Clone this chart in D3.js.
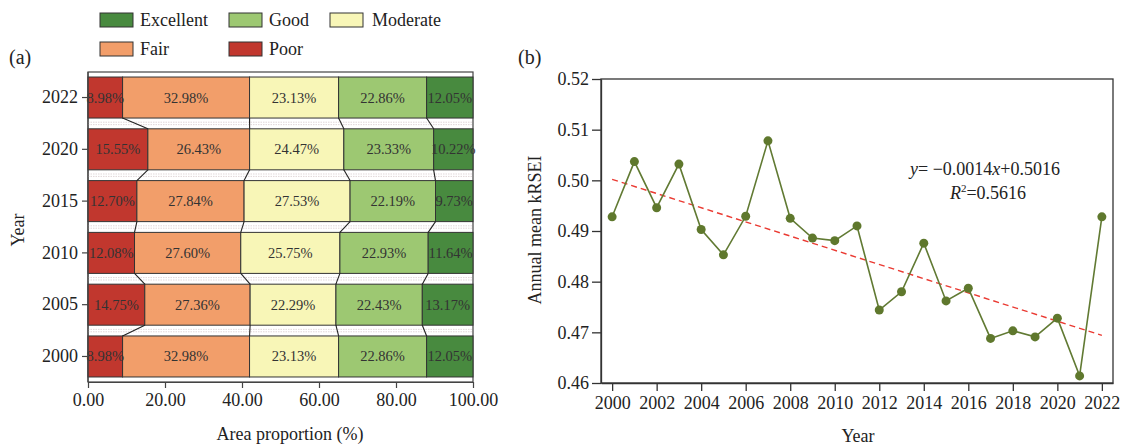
<!DOCTYPE html>
<html><head><meta charset="utf-8">
<script src="https://cdn.jsdelivr.net/npm/d3@7"></script>
<style>
html,body{margin:0;padding:0;background:#fff;}
svg{display:block;}
text{font-family:"Liberation Serif","Times New Roman",serif;fill:#222;}
</style></head><body>
<svg id="c" width="1133" height="446"></svg>
<script>
// ---------- data ----------
const years = ["2022", "2020", "2015", "2010", "2005", "2000"];
const classes = ["Poor", "Fair", "Moderate", "Good", "Excellent"];
const classColors = ["#c1372e", "#f29e6a", "#f8f6b7", "#9dc872", "#488a3f"];
const poor      = [8.98, 15.55, 12.70, 12.08, 14.75, 8.98];
const fair      = [32.98, 26.43, 27.84, 27.60, 27.36, 32.98];
const moderate  = [23.13, 24.47, 27.53, 25.75, 22.29, 23.13];
const good      = [22.86, 23.33, 22.19, 22.93, 22.43, 22.86];
const excellent = [12.05, 10.22, 9.73, 11.64, 13.17, 12.05];
const xTicksA = [0, 20, 40, 60, 80, 100];

const lineYears = [2000,2001,2002,2003,2004,2005,2006,2007,2008,2009,2010,2011,2012,2013,2014,2015,2016,2017,2018,2019,2020,2021,2022];
const krsei = [0.4928,0.5037,0.4946,0.5032,0.4903,0.4853,0.4929,0.5078,0.4925,0.4886,0.4881,0.4910,0.4744,0.4780,0.4876,0.4762,0.4787,0.4688,0.4703,0.4691,0.4728,0.4614,0.4928];
const trendSlope = -0.0014, trendIntercept = 0.5016;
const xTicksB = [2000,2002,2004,2006,2008,2010,2012,2014,2016,2018,2020,2022];
const yTicksB = [0.46,0.47,0.48,0.49,0.50,0.51,0.52];

const svg = d3.select("#c");

// ---------- panel (a) ----------
const series = [poor, fair, moderate, good, excellent];
const rows = years.map((y, i) => {
  let c = 0;
  const segs = series.map((s, k) => { const s0 = c; c += s[i]; return {k, v: s[i], x0: s0, x1: c}; });
  return {year: y, segs};
});

const xA = d3.scaleLinear().domain([0, 100]).range([88, 473]);
const yA = d3.scaleBand().domain(years).range([72, 382]).paddingInner(0.208).paddingOuter(0.097);
const bw = yA.bandwidth();

const gA = svg.append("g");
gA.append("rect").attr("x", xA(0)).attr("y", 72).attr("width", xA(100) - xA(0)).attr("height", 310)
  .attr("fill", "none").attr("stroke", "#444").attr("stroke-width", 1.2);

// gap dotted lines
for (let i = 0; i < years.length - 1; i++) {
  const yb = yA(years[i]) + bw, yt = yA(years[i + 1]);
  const ym = (yb + yt) / 2;
  [ym - 1.2, ym + 1.2].forEach(yy =>
    gA.append("line").attr("x1", xA(0)).attr("x2", xA(100)).attr("y1", yy).attr("y2", yy)
      .attr("stroke", "#d4c6c9").attr("stroke-width", 0.7).attr("stroke-dasharray", "1.5,1"));
}

// bars
rows.forEach(r => {
  const g = gA.append("g");
  g.selectAll("rect").data(r.segs).join("rect")
    .attr("x", d => xA(d.x0)).attr("y", yA(r.year))
    .attr("width", d => xA(d.x1) - xA(d.x0)).attr("height", bw)
    .attr("fill", d => classColors[d.k]).attr("stroke", "#333").attr("stroke-width", 1);
  g.selectAll("text").data(r.segs).join("text")
    .attr("x", d => (xA(d.x0) + xA(d.x1)) / 2).attr("y", yA(r.year) + bw / 2 + 5)
    .attr("text-anchor", "middle").attr("font-size", 14.5).style("fill", "#333")
    .text(d => d.v.toFixed(2) + "%");
});

// connectors
for (let i = 0; i < rows.length - 1; i++) {
  const up = rows[i], lo = rows[i + 1];
  for (let k = 0; k < 4; k++) {
    gA.append("line")
      .attr("x1", xA(up.segs[k].x1)).attr("y1", yA(up.year) + bw)
      .attr("x2", xA(lo.segs[k].x1)).attr("y2", yA(lo.year))
      .attr("stroke", "#222").attr("stroke-width", 1.1);
  }
}

// axes
const axA = gA.append("g").attr("transform", "translate(0,382)")
  .call(d3.axisBottom(xA).tickValues(xTicksA).tickFormat(d3.format(".2f")).tickSize(6).tickPadding(5).tickSizeOuter(0));
const ayA = gA.append("g").attr("transform", "translate(88,0)")
  .call(d3.axisLeft(yA).tickSize(6).tickPadding(4).tickSizeOuter(0));
[axA, ayA].forEach(a => {
  a.selectAll("text").attr("font-size", 18).style("fill", "#222").attr("font-family", '"Liberation Serif",serif');
  a.selectAll("line,path").attr("stroke", "#444").attr("stroke-width", 1.2);
});
ayA.select("path.domain").attr("d", "M0,72V382");

gA.append("text").attr("x", 290).attr("y", 440).attr("text-anchor", "middle").attr("font-size", 18).text("Area proportion (%)");
gA.append("text").attr("transform", "translate(24,230) rotate(-90)").attr("text-anchor", "middle").attr("font-size", 18).text("Year");
gA.append("text").attr("x", 9).attr("y", 64).attr("font-size", 20).text("(a)");

// legend
const legendOrder = [4, 3, 2, 1, 0];
const legendPos = [[100, 13], [229, 13], [330, 13], [100, 42], [229, 42]];
legendOrder.forEach((k, j) => {
  const [lx, ly] = legendPos[j];
  gA.append("rect").attr("x", lx).attr("y", ly).attr("width", 33).attr("height", 14)
    .attr("fill", classColors[k]).attr("stroke", "#333").attr("stroke-width", 1);
  gA.append("text").attr("x", lx + (k === 2 ? 42 : 40)).attr("y", ly + 13).attr("font-size", 18).text(classes[k]);
});

// ---------- panel (b) ----------
const xB = d3.scaleLinear().domain([1999.5, 2022.5]).range([601, 1113]);
const yB = d3.scaleLinear().domain([0.46, 0.52]).range([383, 79]);
const gB = svg.append("g");
gB.append("rect").attr("x", 601).attr("y", 79).attr("width", 512).attr("height", 304)
  .attr("fill", "none").attr("stroke", "#333").attr("stroke-width", 1.3);

const axB = gB.append("g").attr("transform", "translate(0,383)")
  .call(d3.axisBottom(xB).tickValues(xTicksB).tickFormat(d3.format("d")).tickSize(8).tickPadding(5).tickSizeOuter(0));
const ayB = gB.append("g").attr("transform", "translate(601,0)")
  .call(d3.axisLeft(yB).tickValues(yTicksB).tickFormat(d3.format(".2f")).tickSize(9).tickPadding(3).tickSizeOuter(0));
[axB, ayB].forEach(a => {
  a.selectAll("text").attr("font-size", 18).style("fill", "#222").attr("font-family", '"Liberation Serif",serif');
  a.selectAll("line,path").attr("stroke", "#333").attr("stroke-width", 1.3);
});

// trend line
const tx0 = lineYears[0], tx1 = lineYears[lineYears.length - 1];
const trend = (yr) => trendSlope * (yr - 1999) + trendIntercept;
gB.append("line").attr("x1", xB(tx0)).attr("y1", yB(trend(tx0))).attr("x2", xB(tx1)).attr("y2", yB(trend(tx1)))
  .attr("stroke", "#ea3a32").attr("stroke-width", 1.4).attr("stroke-dasharray", "6,4");

const pts = lineYears.map((yr, i) => [yr, krsei[i]]);
gB.append("path").datum(pts).attr("fill", "none").attr("stroke", "#617a33").attr("stroke-width", 1.6)
  .attr("d", d3.line().x(d => xB(d[0])).y(d => yB(d[1])));
gB.selectAll("circle").data(pts).join("circle")
  .attr("cx", d => xB(d[0])).attr("cy", d => yB(d[1])).attr("r", 4.5).attr("fill", "#5f782d");

// equation
const eq = gB.append("text").attr("x", 985).attr("y", 175).attr("text-anchor", "middle").attr("font-size", 18);
eq.append("tspan").attr("font-style", "italic").text("y");
eq.append("tspan").text("= \u22120.0014");
eq.append("tspan").attr("font-style", "italic").text("x");
eq.append("tspan").text("+0.5016");
const r2 = gB.append("text").attr("x", 988).attr("y", 199).attr("text-anchor", "middle").attr("font-size", 18);
r2.append("tspan").attr("font-style", "italic").text("R");
r2.append("tspan").attr("font-size", 11).attr("dy", -7).text("2");
r2.append("tspan").attr("dy", 7).text("=0.5616");

gB.append("text").attr("x", 858).attr("y", 442).attr("text-anchor", "middle").attr("font-size", 18).text("Year");
gB.append("text").attr("transform", "translate(541,230) rotate(-90)").attr("text-anchor", "middle").attr("font-size", 18).text("Annual mean kRSEI");
gB.append("text").attr("x", 518).attr("y", 64).attr("font-size", 20).text("(b)");
</script>
</body></html>
